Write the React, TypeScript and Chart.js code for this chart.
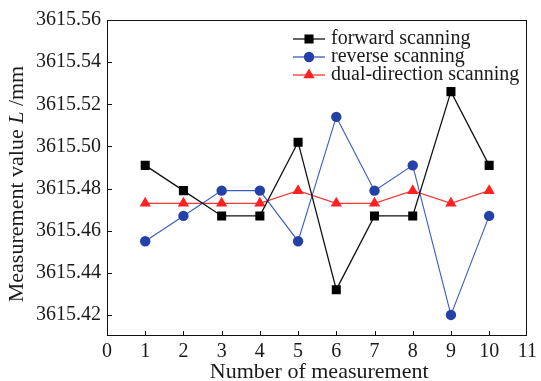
import React, { useEffect, useRef } from "react";
import { Chart, registerables } from "chart.js";

Chart.register(...registerables);

const measurements = [1, 2, 3, 4, 5, 6, 7, 8, 9, 10];
const forwardScanning = [3615.491, 3615.479, 3615.467, 3615.467, 3615.502, 3615.432, 3615.467, 3615.467, 3615.526, 3615.491];
const reverseScanning = [3615.455, 3615.467, 3615.479, 3615.479, 3615.455, 3615.514, 3615.479, 3615.491, 3615.42, 3615.467];
const dualScanning = [3615.473, 3615.473, 3615.473, 3615.473, 3615.479, 3615.473, 3615.473, 3615.479, 3615.473, 3615.479];
const xTicks = [0, 1, 2, 3, 4, 5, 6, 7, 8, 9, 10, 11];
const yTicks = [3615.42, 3615.44, 3615.46, 3615.48, 3615.5, 3615.52, 3615.54, 3615.56];
const seriesNames = ["forward scanning", "reverse scanning", "dual-direction scanning"];
const xTitle = "Number of measurement";
const yTitleParts = [
  { text: "Measurement value ", italic: false },
  { text: "L", italic: true },
  { text: " /mm", italic: false },
];

const FONT = "Liberation Serif, serif";
const TEXT_COLOR = "#1a1a1a";

function drawMarker(ctx: CanvasRenderingContext2D, style: string, x: number, y: number, r: number, color: string) {
  ctx.save();
  ctx.fillStyle = color;
  ctx.beginPath();
  if (style === "rect") {
    const s = Math.SQRT1_2 * r;
    ctx.rect(x - s, y - s, 2 * s, 2 * s);
  } else if (style === "circle") {
    ctx.arc(x, y, r, 0, Math.PI * 2);
  } else if (style === "triangle") {
    for (let i = 0; i < 3; i++) {
      const a = -Math.PI / 2 + (i * 2 * Math.PI) / 3;
      const px = x + Math.cos(a) * r;
      const py = y + Math.sin(a) * r;
      if (i === 0) ctx.moveTo(px, py);
      else ctx.lineTo(px, py);
    }
    ctx.closePath();
  }
  ctx.fill();
  ctx.restore();
}

const decorPlugin = {
  id: "decor",
  beforeDatasetsDraw(chart: any) {
    const { ctx, chartArea } = chart;
    const { left, right, top, bottom } = chartArea;
    ctx.save();
    ctx.strokeStyle = "#111";
    ctx.lineWidth = 1;
    ctx.strokeRect(Math.round(left) + 0.5, Math.round(top) + 0.5, Math.round(right - left) - 1, Math.round(bottom - top) - 1);
    const xs = chart.scales.x;
    const ys = chart.scales.y;
    ctx.beginPath();
    xTicks.forEach((v) => {
      if (v === xTicks[0] || v === xTicks[xTicks.length - 1]) return;
      const px = Math.round(xs.getPixelForValue(v)) + 0.5;
      ctx.moveTo(px, bottom);
      ctx.lineTo(px, bottom - 5);
    });
    yTicks.forEach((v) => {
      const py = Math.round(ys.getPixelForValue(v)) + 0.5;
      ctx.moveTo(left, py);
      ctx.lineTo(left + 5, py);
    });
    ctx.stroke();
    ctx.restore();
  },
  afterDraw(chart: any) {
    const { ctx, chartArea } = chart;
    ctx.save();
    ctx.fillStyle = TEXT_COLOR;
    ctx.font = `22px ${FONT}`;
    ctx.textAlign = "center";
    ctx.textBaseline = "middle";
    ctx.fillText(xTitle, (chartArea.left + chartArea.right) / 2 + 2, 372);
    ctx.save();
    ctx.translate(17, 184);
    ctx.rotate(-Math.PI / 2);
    ctx.textAlign = "left";
    ctx.textBaseline = "middle";
    const widths = yTitleParts.map((p) => {
      ctx.font = `${p.italic ? "italic " : ""}22px ${FONT}`;
      return ctx.measureText(p.text).width;
    });
    const total = widths.reduce((a, b) => a + b, 0);
    let cx = -total / 2;
    yTitleParts.forEach((p, i) => {
      ctx.font = `${p.italic ? "italic " : ""}22px ${FONT}`;
      ctx.fillText(p.text, cx, 0);
      cx += widths[i];
    });
    ctx.restore();
    const rowY = [39, 57, 75];
    chart.data.datasets.forEach((ds: any, i: number) => {
      const y = rowY[i];
      ctx.strokeStyle = ds.borderColor;
      ctx.lineWidth = 1.3;
      ctx.beginPath();
      ctx.moveTo(293, y);
      ctx.lineTo(325, y);
      ctx.stroke();
      drawMarker(ctx, ds.pointStyle, 309, y, ds.pointRadius, ds.pointBackgroundColor);
      ctx.fillStyle = TEXT_COLOR;
      ctx.font = `20px ${FONT}`;
      ctx.textAlign = "left";
      ctx.textBaseline = "middle";
      ctx.fillText(ds.label, 331, y);
    });
    ctx.restore();
  },
};

export default function App() {
  const ref = useRef<HTMLCanvasElement | null>(null);
  useEffect(() => {
    if (!ref.current) return;
    const chart = new Chart(ref.current, {
      type: "line",
      data: {
        datasets: [
          {
            label: seriesNames[0],
            data: measurements.map((x, i) => ({ x, y: forwardScanning[i] })),
            borderColor: "#111111",
            borderWidth: 1.3,
            pointStyle: "rect",
            pointRadius: 6.4,
            pointBackgroundColor: "#000000",
            pointBorderColor: "#000000",
            pointBorderWidth: 0,
          },
          {
            label: seriesNames[1],
            data: measurements.map((x, i) => ({ x, y: reverseScanning[i] })),
            borderColor: "#3a5cc0",
            borderWidth: 1.1,
            pointStyle: "circle",
            pointRadius: 5.2,
            pointBackgroundColor: "#2341a6",
            pointBorderColor: "#2341a6",
            pointBorderWidth: 0,
          },
          {
            label: seriesNames[2],
            data: measurements.map((x, i) => ({ x, y: dualScanning[i] })),
            borderColor: "#f03a3a",
            borderWidth: 1.2,
            pointStyle: "triangle",
            pointRadius: 6.5,
            pointBackgroundColor: "#ff2020",
            pointBorderColor: "#ff2020",
            pointBorderWidth: 0,
          },
        ],
      } as any,
      options: {
        animation: false,
        responsive: false,
        devicePixelRatio: 1,
        layout: { padding: { top: 20, right: 12, left: 0, bottom: 0 } },
        plugins: { legend: { display: false }, tooltip: { enabled: false } },
        scales: {
          x: {
            type: "linear",
            min: 0,
            max: 11,
            grid: { display: false, drawTicks: false },
            border: { display: false },
            afterBuildTicks: (scale: any) => {
              scale.ticks = xTicks.map((v) => ({ value: v }));
            },
            afterFit: (scale: any) => {
              scale.height = 45;
            },
            ticks: {
              autoSkip: false,
              maxRotation: 0,
              padding: 4,
              color: TEXT_COLOR,
              font: { family: FONT, size: 20 },
              callback: (v: any) => String(v),
            },
          },
          y: {
            type: "linear",
            min: 3615.41,
            max: 3615.56,
            grid: { display: false, drawTicks: false },
            border: { display: false },
            afterBuildTicks: (scale: any) => {
              scale.ticks = yTicks.map((v) => ({ value: v }));
            },
            afterFit: (scale: any) => {
              scale.width = 107;
            },
            ticks: {
              autoSkip: false,
              padding: 6,
              color: TEXT_COLOR,
              font: { family: FONT, size: 20 },
              callback: (v: any) => Number(v).toFixed(2),
            },
          },
        },
      } as any,
      plugins: [decorPlugin],
    });
    return () => chart.destroy();
  }, []);
  return (
    <div style={{ position: "fixed", left: 0, top: 0, width: 541, height: 381, background: "#fff" }}>
      <canvas ref={ref} width={541} height={381} style={{ display: "block" }} />
    </div>
  );
}
